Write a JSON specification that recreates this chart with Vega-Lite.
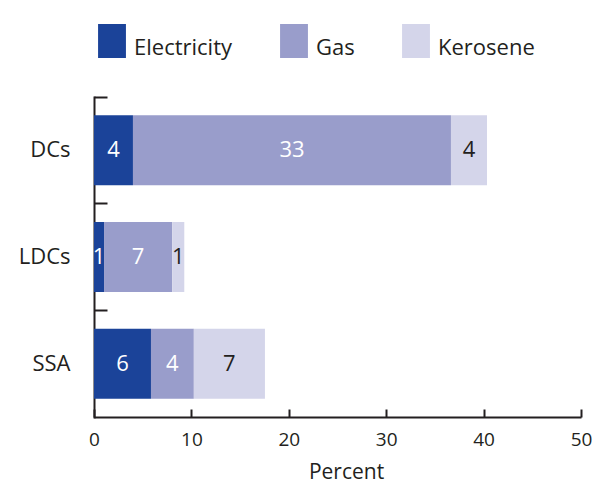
{
  "$schema": "https://vega.github.io/schema/vega-lite/v6.json",
  "autosize": "none",
  "width": 487,
  "height": 320,
  "padding": {"left": 94, "top": 97, "right": 16, "bottom": 74},
  "background": "white",
  "config": {
    "view": {"stroke": null},
    "font": "Open Sans",
    "axis": {"domainColor": "#231f20", "tickColor": "#231f20", "labelColor": "#231f20", "titleColor": "#231f20", "domainWidth": 2, "tickWidth": 2, "grid": false}
  },
  "data": {
    "values": [
      {"group": "DCs", "source": "Electricity", "value": 4.0},
      {"group": "DCs", "source": "Gas", "value": 32.65},
      {"group": "DCs", "source": "Kerosene", "value": 3.7},
      {"group": "LDCs", "source": "Electricity", "value": 1.03},
      {"group": "LDCs", "source": "Gas", "value": 7.0},
      {"group": "LDCs", "source": "Kerosene", "value": 1.24},
      {"group": "SSA", "source": "Electricity", "value": 5.85},
      {"group": "SSA", "source": "Gas", "value": 4.4},
      {"group": "SSA", "source": "Kerosene", "value": 7.3}
    ]
  },
  "transform": [
    {"calculate": "datum.source === 'Electricity' ? 0 : datum.source === 'Gas' ? 1 : 2", "as": "order"},
    {"stack": "value", "groupby": ["group"], "sort": [{"field": "order"}], "as": ["x0", "x1"]},
    {"calculate": "(datum.x0 + datum.x1) / 2", "as": "mid"}
  ],
  "encoding": {
    "y": {
      "field": "group", "type": "nominal", "sort": ["DCs", "LDCs", "SSA"],
      "scale": {"paddingInner": 0, "paddingOuter": 0},
      "axis": {"title": null, "labelFontSize": 22, "tickSize": -13, "labelPadding": 37, "bandPosition": 0, "domainCap": "square"}
    }
  },
  "layer": [
    {
      "mark": {"type": "bar", "size": 70},
      "encoding": {
        "x": {"field": "x0", "type": "quantitative", "scale": {"domain": [0, 50]},
          "axis": {"title": "Percent", "values": [0, 10, 20, 30, 40, 50], "labelFontSize": 19, "titleFontSize": 21, "titleFontWeight": "normal", "tickSize": -8, "labelPadding": 21, "titlePadding": 12, "titleX": 252, "labelFlush": false}},
        "x2": {"field": "x1"},
        "color": {
          "field": "source", "type": "nominal",
          "scale": {"domain": ["Electricity", "Gas", "Kerosene"], "range": ["#1b4399", "#999dcb", "#d4d5ea"]},
          "legend": {
            "title": null, "orient": "none", "direction": "horizontal", "legendX": 1, "legendY": -73,
            "symbolType": "M-0.82,-1V1H0.82V-1Z", "symbolSize": 1156, "symbolStrokeWidth": 0,
            "labelFontSize": 22, "labelColor": "#231f20", "labelOffset": 5, "columnPadding": 44,
            "encode": {"labels": {"update": {"dy": {"value": 7}}}}
          }
        }
      }
    },
    {
      "mark": {"type": "text", "fontSize": 22, "baseline": "middle"},
      "encoding": {
        "x": {"field": "mid", "type": "quantitative"},
        "text": {"field": "value", "type": "quantitative", "format": ".0f"},
        "color": {"condition": {"test": "datum.source === 'Kerosene'", "value": "#231f20"}, "value": "white"}
      }
    }
  ]
}
